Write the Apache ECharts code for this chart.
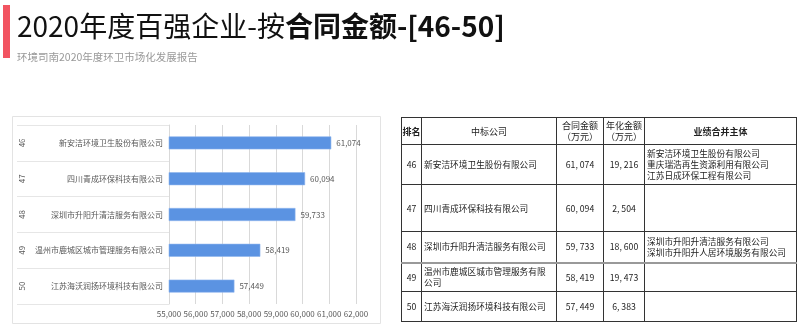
<!DOCTYPE html>
<html>
<head>
<meta charset="utf-8">
<script src="https://cdn.jsdelivr.net/npm/echarts@6/dist/echarts.min.js"></script>
<style>
  html, body { margin: 0; padding: 0; background: #fff; }
  #wrap { position: relative; width: 800px; height: 331px; overflow: hidden; }
  #chart { position: absolute; left: 0; top: 0; width: 800px; height: 331px; }
  #rank-table {
    position: absolute; left: 401px; top: 117px;
    border-collapse: collapse; table-layout: fixed;
    font-family: "Noto Sans CJK SC", sans-serif; font-size: 8.7px; color: #222;
  }
  #rank-table td, #rank-table th {
    border: 1px solid #333; padding: 0 2px; line-height: 11px; overflow: hidden;
  }
  #rank-table th { font-weight: normal; font-size: 9px; text-align: center; padding: 0; }
  #rank-table th.bold { font-weight: bold; }
  #rank-table td.c { text-align: center; }
  #rank-table td.l { text-align: left; }
  #rank-table tr.sep td { border-top: 2px solid #999; }
</style>
</head>
<body>
<div id="wrap">
  <div id="chart"></div>
  <table id="rank-table"></table>
</div>
<script>
  // 数据
  const ranks = ['46', '47', '48', '49', '50'];
  const companies = [
    '新安洁环境卫生股份有限公司',
    '四川青成环保科技有限公司',
    '深圳市升阳升清洁服务有限公司',
    '温州市鹿城区城市管理服务有限公司',
    '江苏海沃润扬环境科技有限公司'
  ];
  const contractAmounts = [61074, 60094, 59733, 58419, 57449];
  const annualAmounts = [19216, 2504, 18600, 19473, 6383];
  const mergedEntities = [
    ['新安洁环境卫生股份有限公司', '重庆瑞浩再生资源利用有限公司', '江苏日成环保工程有限公司'],
    [],
    ['深圳市升阳升清洁服务有限公司', '深圳市升阳升人居环境服务有限公司'],
    [],
    []
  ];
  const xTicks = { min: 55000, max: 62000, step: 1000 };

  const fmt = v => echarts.format.addCommas(v);

  // 右侧表格
  const colWidths = [20, 135, 47, 41, 152];
  const rowHeights = [40, 47, 31, 29, 30];
  let html = '<colgroup>' + colWidths.map(w => '<col style="width:' + w + 'px">').join('') + '</colgroup>';
  html += '<tr style="height:27px"><th class="bold">排名</th><th>中标公司</th><th>合同金额<br>（万元）</th><th>年化金额<br>（万元）</th><th class="bold">业绩合并主体</th></tr>';
  ranks.forEach((r, i) => {
    html += '<tr' + (i === 3 ? ' class="sep"' : '') + ' style="height:' + rowHeights[i] + 'px">' +
      '<td class="c">' + r + '</td>' +
      '<td class="l">' + companies[i] + '</td>' +
      '<td class="c">' + fmt(contractAmounts[i]).replace(',', ', ') + '</td>' +
      '<td class="c">' + fmt(annualAmounts[i]).replace(',', ', ') + '</td>' +
      '<td class="l">' + mergedEntities[i].join('<br>') + '</td></tr>';
  });
  document.getElementById('rank-table').innerHTML = html;

  let chartDom = document.getElementById('chart');
  let myChart = echarts.init(chartDom);
  let option = {
    textStyle: { fontFamily: 'Noto Sans CJK SC' },
    title: {
      text: '{a|2020年度百强企业-按}{b|合同金额-[46-50]}',
      subtext: '环境司南2020年度环卫市场化发展报告',
      left: 12,
      top: 7,
      itemGap: 12,
      textStyle: {
        rich: {
          a: { fontSize: 28, fontWeight: 'normal', color: '#111', fontFamily: 'Noto Sans CJK SC' },
          b: { fontSize: 28, fontWeight: 'bold', color: '#111', fontFamily: 'Noto Sans CJK SC' }
        }
      },
      subtextStyle: { fontSize: 10.5, color: '#999', fontFamily: 'Noto Sans CJK SC' }
    },
    graphic: [
      { type: 'rect', shape: { x: 3, y: 5, width: 7, height: 53 }, style: { fill: '#f25461' } },
      { type: 'rect', shape: { x: 12.5, y: 116.5, width: 368, height: 207 }, style: { fill: 'none', stroke: '#e3e3e3' } }
    ],
    grid: { left: 169, right: 444, top: 125, bottom: 27 },
    xAxis: {
      type: 'value',
      min: xTicks.min,
      max: xTicks.max,
      interval: xTicks.step,
      axisLine: { show: false },
      axisTick: { show: false },
      splitLine: { lineStyle: { color: '#d9d9d9' } },
      axisLabel: {
        fontSize: 8, color: '#595959', margin: 6, formatter: fmt,
        showMinLabel: true, showMaxLabel: true, hideOverlap: false
      }
    },
    yAxis: [
      {
        type: 'category',
        inverse: true,
        data: companies,
        axisLine: { lineStyle: { color: '#d9d9d9' } },
        axisTick: { show: true, length: 152, lineStyle: { color: '#e6e6e6' } },
        axisLabel: { fontSize: 8, color: '#595959', margin: 6 }
      },
      {
        type: 'category',
        inverse: true,
        position: 'left',
        offset: 147,
        data: ranks,
        axisLine: { show: false },
        axisTick: { show: false },
        axisLabel: { fontSize: 8, color: '#595959', rotate: 90, margin: 0, align: 'center', verticalAlign: 'middle' }
      }
    ],
    series: [
      {
        type: 'bar',
        yAxisIndex: 0,
        data: contractAmounts,
        barWidth: 13,
        itemStyle: { color: '#5b93e2', borderColor: '#8fb6ee', borderWidth: 0.6 },
        label: { show: true, position: 'right', distance: 5, fontSize: 8, color: '#595959', formatter: p => fmt(p.value) }
      }
    ]
  };
  option && myChart.setOption(option);
</script>
</body>
</html>
